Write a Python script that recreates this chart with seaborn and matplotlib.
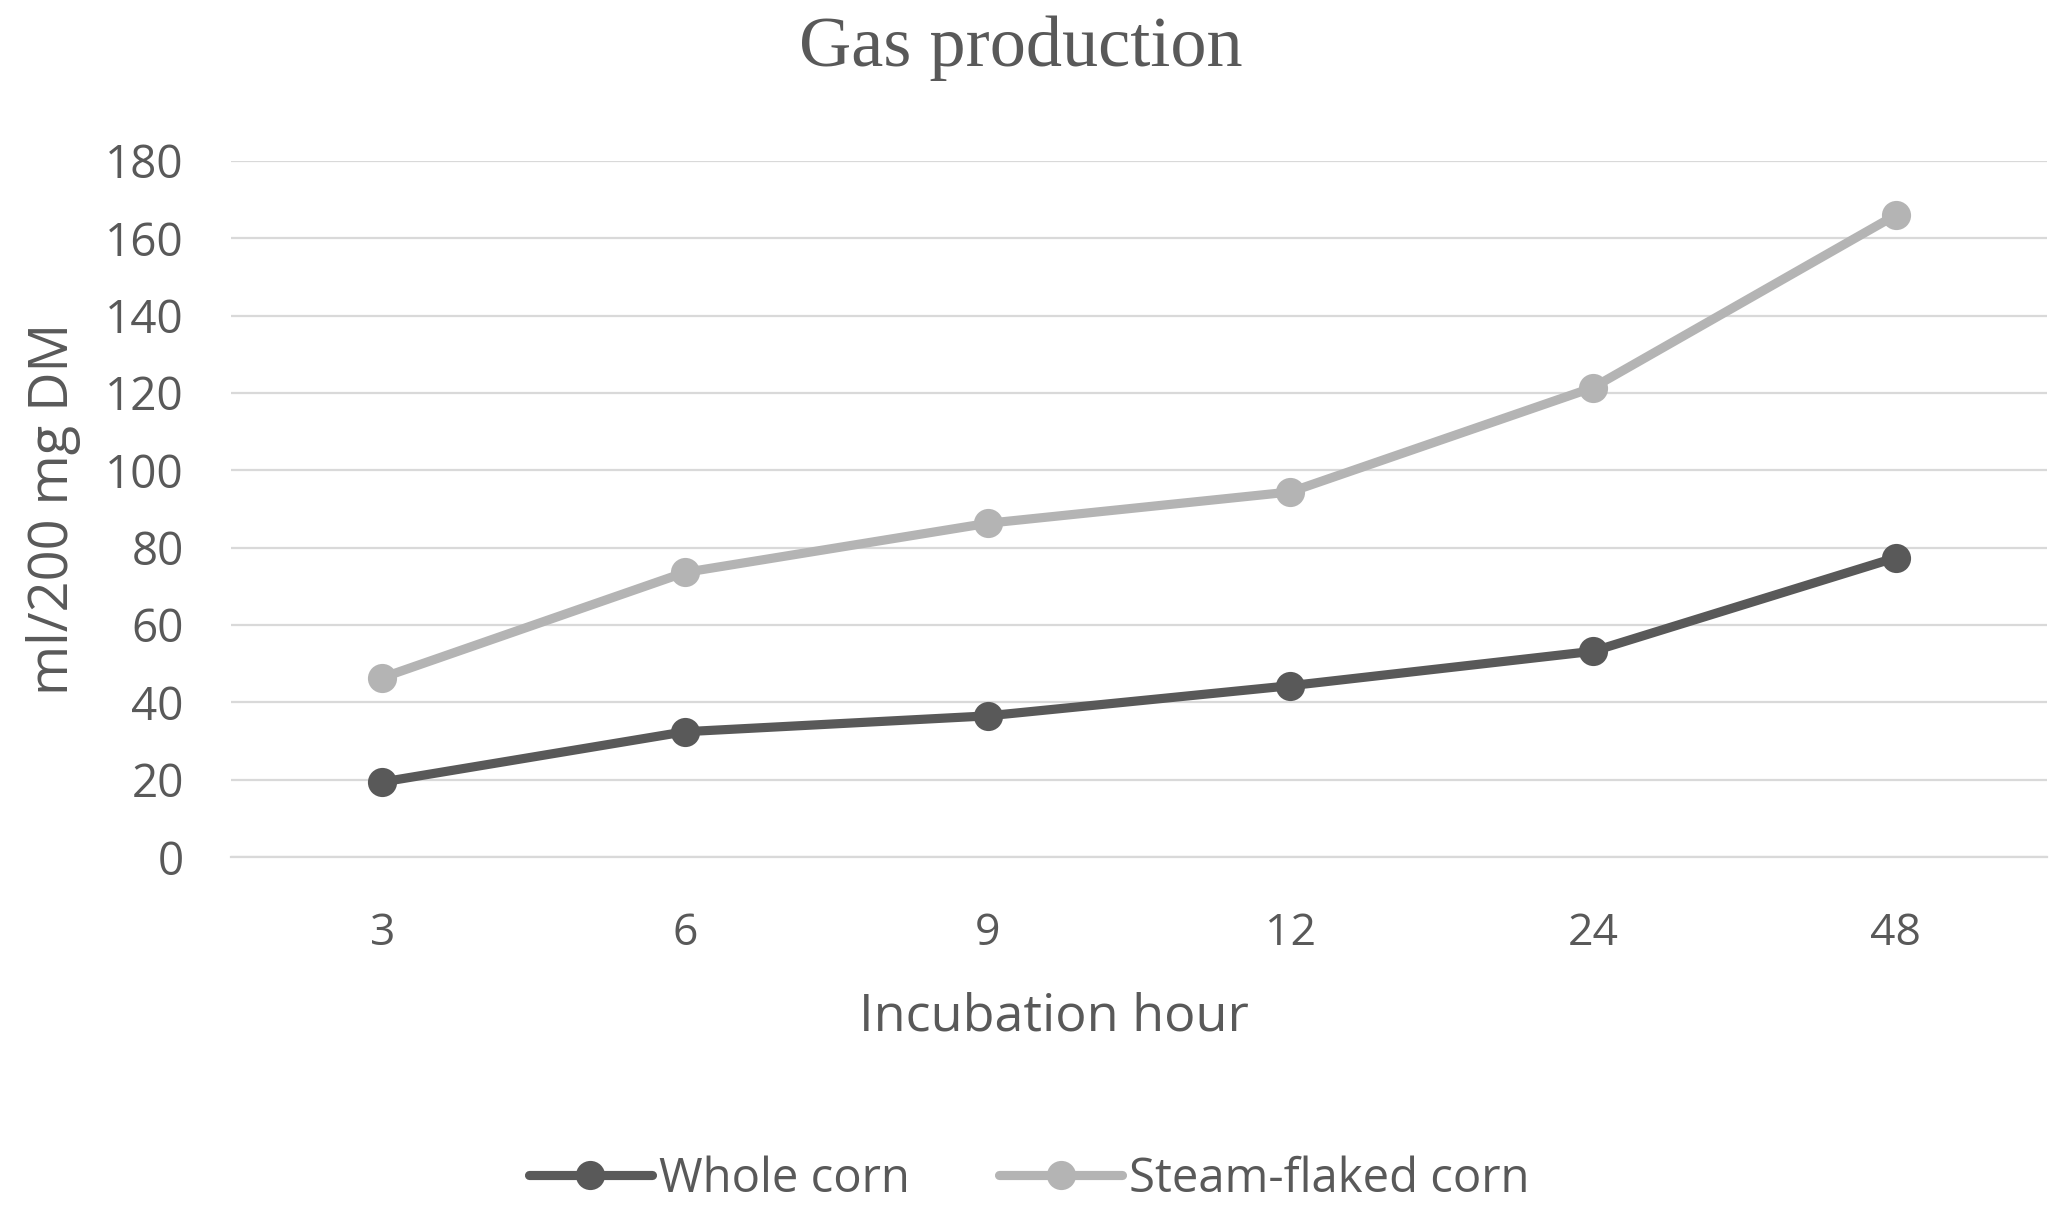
import seaborn as sns
import matplotlib.pyplot as plt
import pandas as pd

hours = ['3', '6', '9', '12', '24', '48']
whole_corn = [19.4, 32.4, 36.5, 44.3, 53.2, 77.4]
steam_flaked = [46.4, 73.6, 86.3, 94.4, 121.4, 166.0]
series = ['Whole corn', 'Steam-flaked corn']
yticks = [0, 20, 40, 60, 80, 100, 120, 140, 160, 180]

df = pd.DataFrame({
    'hour': hours * 2,
    'value': whole_corn + steam_flaked,
    'series': [series[0]] * len(hours) + [series[1]] * len(hours),
})

sns.set_style('white')
plt.rcParams['font.family'] = ['Open Sans', 'DejaVu Sans']

txt = '#595959'
grid = '#d9d9d9'

fig = plt.figure(figsize=(20.67, 12.12), dpi=100)
ax = fig.add_axes([0.1118, 0.2929, 0.8785, 0.5743])

sns.lineplot(data=df, x='hour', y='value', hue='series', sort=False,
             palette={'Whole corn': '#595959', 'Steam-flaked corn': '#b4b4b4'},
             marker='o', markersize=21, markeredgewidth=0, linewidth=6.6,
             ax=ax, zorder=3)

ax.set_xlim(-0.5, len(hours) - 0.5)
ax.set_ylim(0, 180)
ax.set_yticks(yticks)
ax.yaxis.grid(True, color=grid, linewidth=1.6)
ax.xaxis.grid(False)
for s in ['top', 'right', 'left']:
    ax.spines[s].set_visible(False)
ax.spines['bottom'].set_color(grid)
ax.spines['bottom'].set_linewidth(1.6)
ax.tick_params(axis='y', length=0, pad=34, labelsize=33, labelcolor=txt)
ax.tick_params(axis='x', length=0, pad=39, labelsize=32, labelcolor=txt)

ax.set_xlabel('Incubation hour', fontsize=37.5, color=txt, va='center')
ax.xaxis.set_label_coords(0.453, -0.23)
ax.set_ylabel('ml/200 mg DM', fontsize=39, color=txt, va='center')
ax.yaxis.set_label_coords(-0.098, 0.5)

fig.suptitle('Gas production', x=0.494, y=0.96, va='center',
             fontsize=52, color=txt, family='Liberation Serif')

handles, labels = ax.get_legend_handles_labels()
ax.legend(handles, labels, loc='center', bbox_to_anchor=(0.498, 0.027),
          bbox_transform=fig.transFigure, ncol=2, frameon=False,
          fontsize=34, labelcolor=txt, handlelength=2.6, handletextpad=0.15,
          columnspacing=1.9, markerscale=1.0)

fig.savefig('out.png', dpi=100)
